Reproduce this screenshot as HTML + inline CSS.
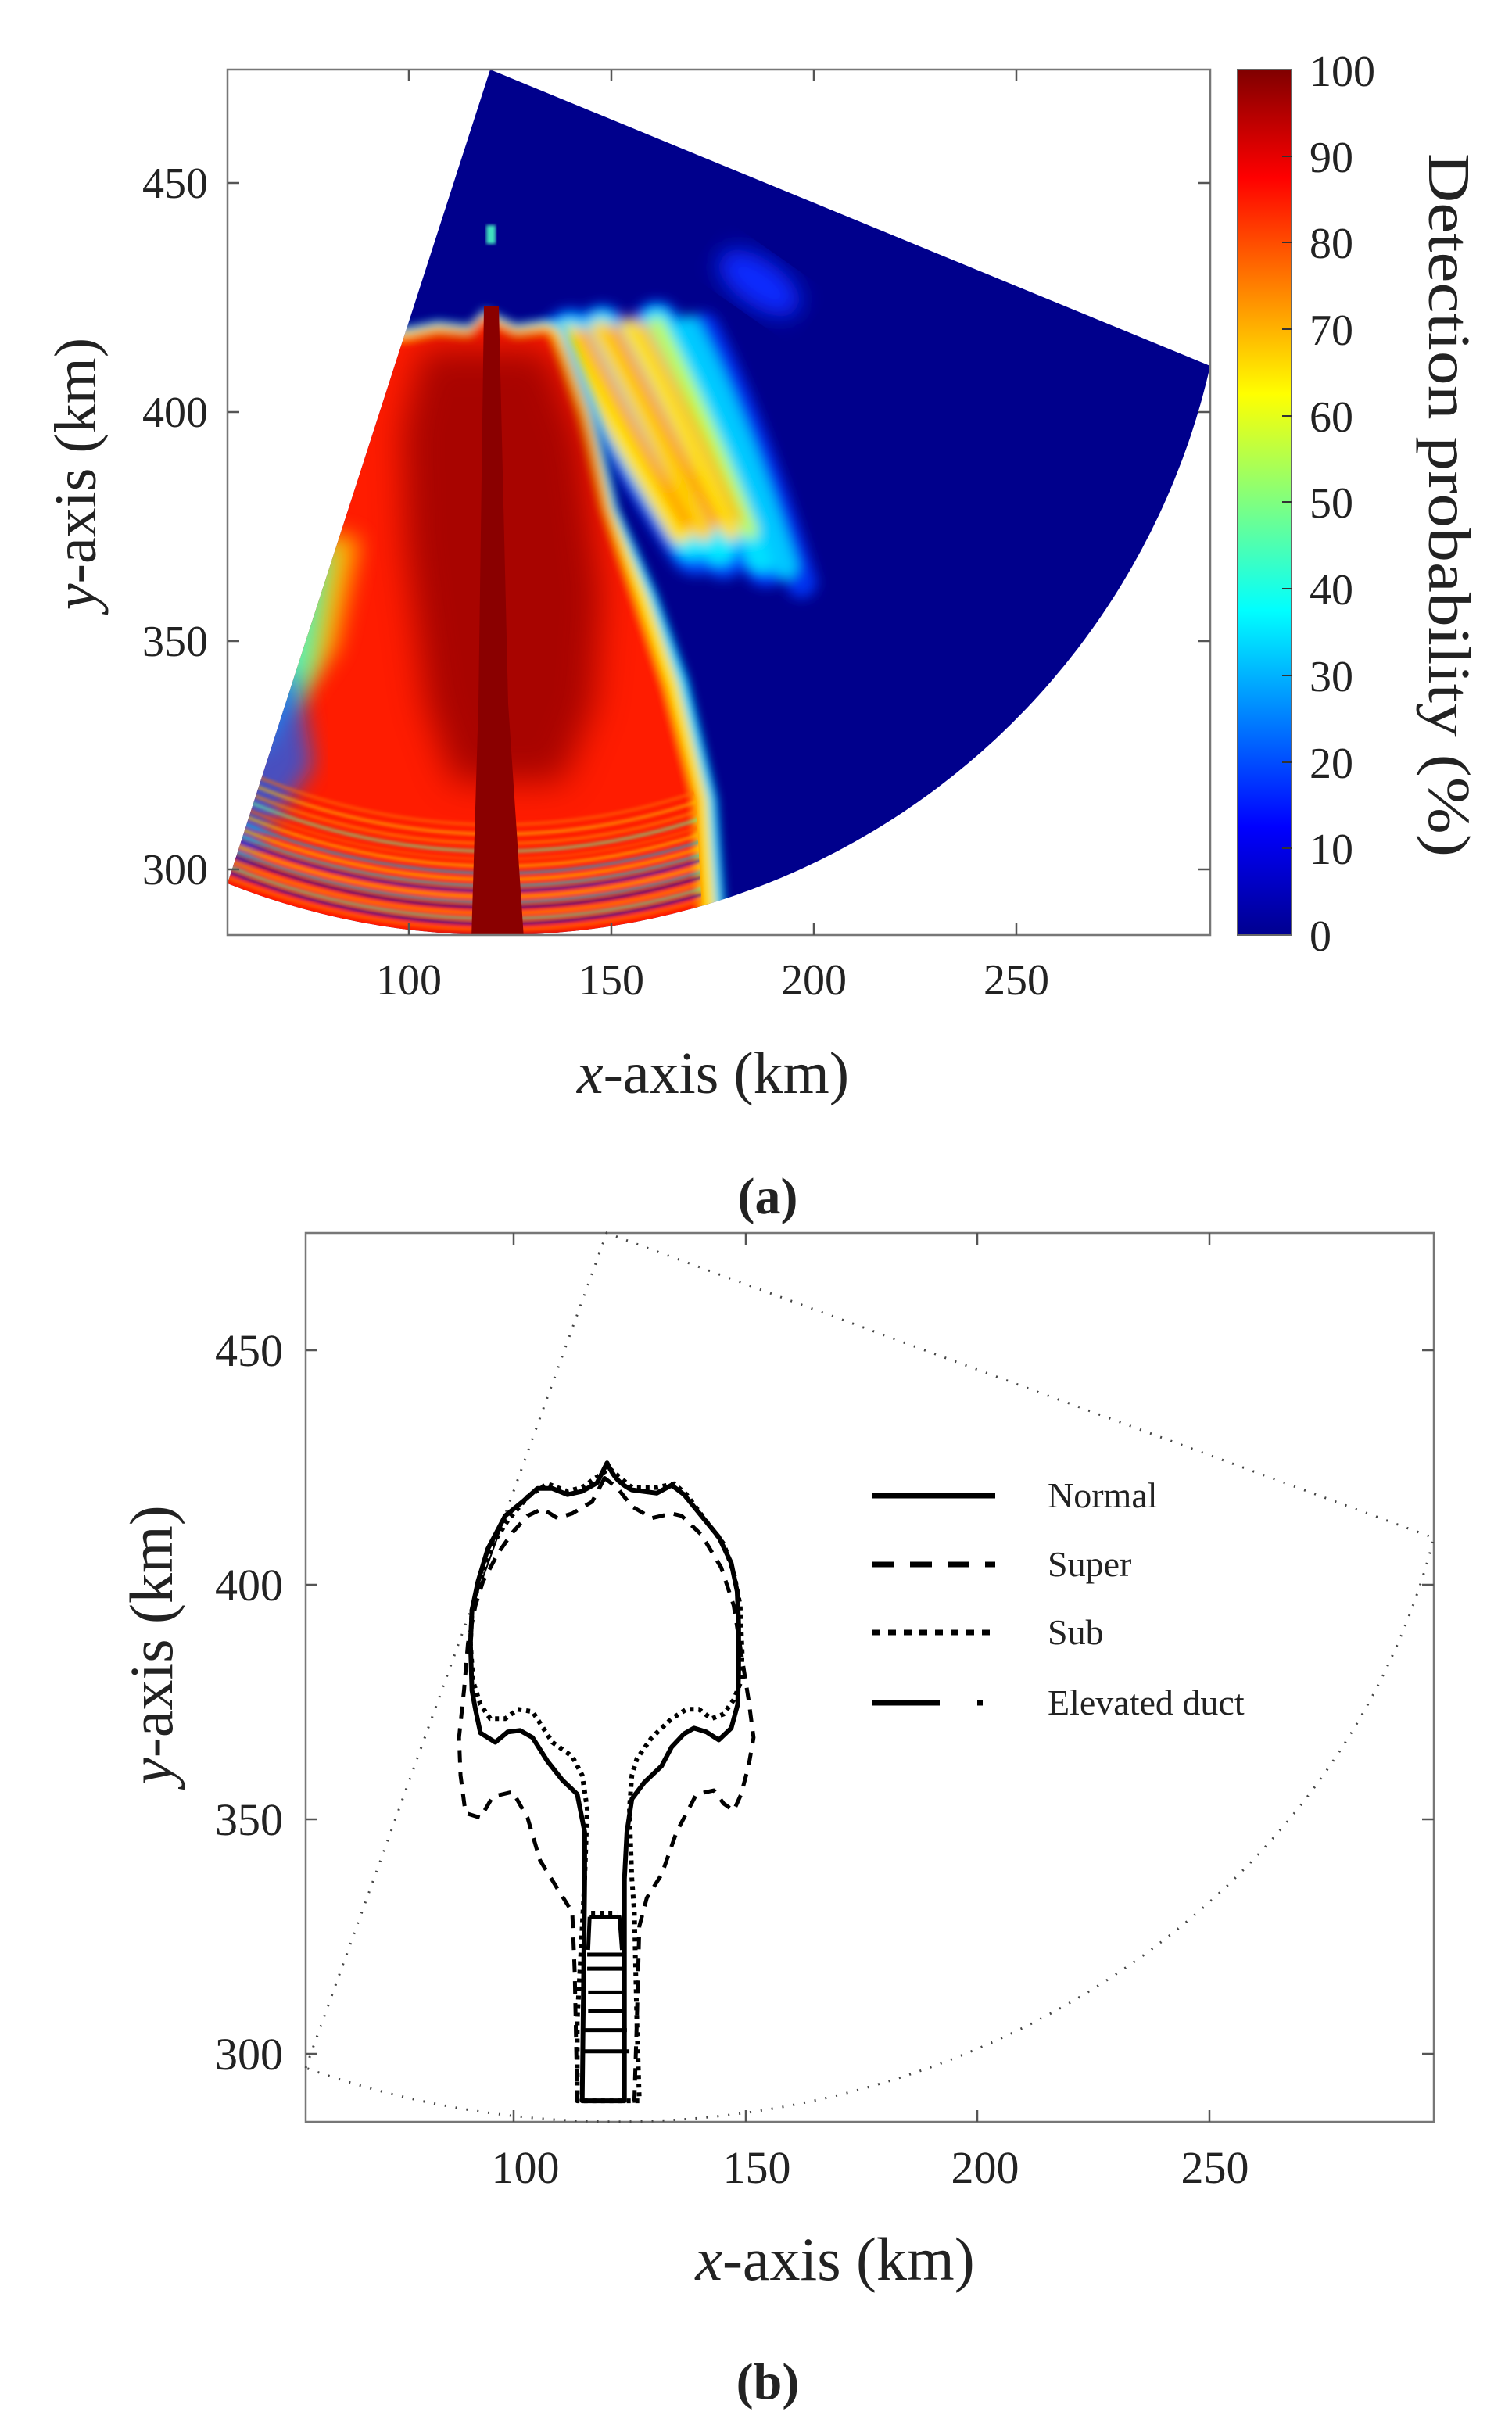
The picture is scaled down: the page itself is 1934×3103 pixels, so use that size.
<!DOCTYPE html>
<html><head><meta charset="utf-8"><style>
html,body{margin:0;padding:0;background:#fff;}
svg{display:block;}
text{font-family:"Liberation Serif",serif;fill:#222;}
</style></head><body>
<svg width="1934" height="3103" viewBox="0 0 1934 3103" xmlns="http://www.w3.org/2000/svg">
<defs>
<clipPath id="sec"><path d="M627,89 L1548,468 A935,935 0 0,1 291,1130 Z"/></clipPath>
<clipPath id="lobeclip"><path d="M240,432 L521,432 L560,424 L600,428 L620,405 L660,428 L700,422 L708,432 L742,530 L772,650 L815,770 L852,880 L890,1022 L900,1200 L240,1200 Z"/></clipPath>
<filter id="b6" x="-20%" y="-20%" width="140%" height="140%"><feGaussianBlur stdDeviation="6"/></filter>
<filter id="b8" x="-20%" y="-20%" width="140%" height="140%"><feGaussianBlur stdDeviation="8"/></filter>
<filter id="b14" x="-20%" y="-20%" width="140%" height="140%"><feGaussianBlur stdDeviation="14"/></filter>
<filter id="b22" x="-30%" y="-30%" width="160%" height="160%"><feGaussianBlur stdDeviation="22"/></filter>
<filter id="b2"><feGaussianBlur stdDeviation="2"/></filter>
<linearGradient id="jet" x1="0" y1="1" x2="0" y2="0">
<stop offset="0" stop-color="#00008f"/><stop offset="0.125" stop-color="#0000ff"/>
<stop offset="0.375" stop-color="#00ffff"/><stop offset="0.625" stop-color="#ffff00"/>
<stop offset="0.875" stop-color="#ff0000"/><stop offset="1" stop-color="#800000"/>
</linearGradient>
</defs>

<!-- Panel (a) heatmap -->
<g clip-path="url(#sec)">
<rect x="280" y="80" width="1280" height="1130" fill="#00008c"/>
<ellipse cx="971" cy="362" rx="60" ry="30" fill="#0a2cff" transform="rotate(35 971 362)" filter="url(#b14)"/>
<rect x="622" y="288" width="12" height="24" fill="#40e0c0" filter="url(#b2)"/>
<!-- fingers -->
<g filter="url(#b8)" fill="none" stroke-linecap="round">
<path d="M730,430 Q800,560 890,700" stroke="#0050ff" stroke-width="70"/>
<path d="M770,420 Q840,540 925,710" stroke="#0050ff" stroke-width="60"/>
<path d="M840,415 Q900,530 980,720" stroke="#0040ff" stroke-width="60"/>
<path d="M900,420 Q960,540 1025,745" stroke="#0030f0" stroke-width="40"/>
<path d="M730,430 Q800,560 885,690" stroke="#00e8ff" stroke-width="50"/>
<path d="M770,420 Q840,540 920,700" stroke="#00e8ff" stroke-width="44"/>
<path d="M840,415 Q900,530 975,710" stroke="#00e0ff" stroke-width="44"/>
<path d="M880,418 Q940,530 1005,725" stroke="#00c8ff" stroke-width="30"/>
<path d="M728,432 Q790,550 870,680" stroke="#ffe000" stroke-width="30"/>
<path d="M768,422 Q830,535 900,680" stroke="#ffd000" stroke-width="24"/>
<path d="M805,417 Q865,525 935,680" stroke="#ffe000" stroke-width="22"/>
<path d="M840,415 Q895,520 960,680" stroke="#c0ff40" stroke-width="18"/>
<path d="M745,425 Q805,540 878,670" stroke="#ff9000" stroke-width="12"/>
<path d="M785,420 Q845,530 915,670" stroke="#ff8000" stroke-width="10"/>
<path d="M822,416 Q880,520 945,665" stroke="#ffa000" stroke-width="8"/>
</g>
<!-- lobe -->
<g filter="url(#b6)">
<path d="M240,418 L521,418 L560,410 L600,415 L620,395 L660,414 L700,408 L722,417 L760,520 L791,650 L840,760 L880,870 L917,1022 L930,1200 L240,1200 Z" fill="#00d8ff"/>
<path d="M240,424 L521,424 L560,416 L600,421 L620,400 L660,420 L700,414 L716,424 L752,525 L782,650 L830,765 L868,875 L905,1022 L918,1200 L240,1200 Z" fill="#ffe000"/>
<path d="M240,432 L521,432 L560,424 L600,428 L620,405 L660,428 L700,422 L708,432 L742,530 L772,650 L815,770 L852,880 L890,1022 L900,1200 L240,1200 Z" fill="#ff1a00"/>
</g>
<path d="M540,445 L700,445 L745,560 L770,760 L760,900 L720,1000 L580,1000 L545,900 L520,700 L515,550 Z" fill="#9a0000" filter="url(#b22)" opacity="0.85"/>
<!-- left edge yellow/cyan fade -->
<path d="M420,680 L460,690 L430,830 L380,900 L350,900 L390,740 Z" fill="#ffd000" filter="url(#b14)" opacity="0.85"/>
<path d="M395,700 L425,700 L400,860 L340,960 L300,960 Z" fill="#40ffd0" filter="url(#b14)" opacity="0.85"/>
<path d="M300,900 L380,860 L400,980 L300,1120 Z" fill="#1060ff" filter="url(#b14)" opacity="0.75"/>
<!-- bottom stripes -->
<g clip-path="url(#lobeclip)">
<g fill="none" stroke-width="3.5" opacity="0.75" filter="url(#b2)">
<circle cx="636" cy="261" r="872" stroke="#00e0ff"/>
<circle cx="636" cy="261" r="879" stroke="#0020ff"/>
<circle cx="636" cy="261" r="886" stroke="#ffe000"/>
<circle cx="636" cy="261" r="893" stroke="#00d0ff"/>
<circle cx="636" cy="261" r="900" stroke="#0000d0"/>
<circle cx="636" cy="261" r="907" stroke="#ffb000"/>
<circle cx="636" cy="261" r="914" stroke="#40ffc0"/>
<circle cx="636" cy="261" r="921" stroke="#0010e0"/>
<circle cx="636" cy="261" r="928" stroke="#ff8000"/>
<circle cx="636" cy="261" r="864" stroke="#ffe000"/>
<circle cx="636" cy="261" r="856" stroke="#00c0ff"/>
<circle cx="636" cy="261" r="847" stroke="#ffd000"/>
<circle cx="636" cy="261" r="838" stroke="#ff6000"/>
<circle cx="636" cy="261" r="828" stroke="#60ffa0"/>
<circle cx="636" cy="261" r="818" stroke="#ff9000"/>
<circle cx="636" cy="261" r="806" stroke="#ffc000"/>
<circle cx="636" cy="261" r="794" stroke="#ff7000"/>
</g>
</g>
<!-- column -->
<path d="M619,392 L638,392 L650,900 L670,1200 L603,1200 L612,900 Z" fill="#8a0000"/>
</g>

<!-- Panel (a) axes -->
<rect x="291" y="89" width="1257" height="1107" fill="none" stroke="#777" stroke-width="2.5"/>
<g stroke="#555" stroke-width="2.5">
<line x1="523" y1="1196" x2="523" y2="1181"/><line x1="782" y1="1196" x2="782" y2="1181"/><line x1="1041" y1="1196" x2="1041" y2="1181"/><line x1="1300" y1="1196" x2="1300" y2="1181"/>
<line x1="523" y1="89" x2="523" y2="104"/><line x1="782" y1="89" x2="782" y2="104"/><line x1="1041" y1="89" x2="1041" y2="104"/><line x1="1300" y1="89" x2="1300" y2="104"/>
<line x1="291" y1="234" x2="306" y2="234"/><line x1="291" y1="527" x2="306" y2="527"/><line x1="291" y1="820" x2="306" y2="820"/><line x1="291" y1="1112" x2="306" y2="1112"/>
<line x1="1548" y1="234" x2="1533" y2="234"/><line x1="1548" y1="527" x2="1533" y2="527"/><line x1="1548" y1="820" x2="1533" y2="820"/><line x1="1548" y1="1112" x2="1533" y2="1112"/>
</g>
<g font-size="56" text-anchor="middle">
<text x="523" y="1272">100</text><text x="782" y="1272">150</text><text x="1041" y="1272">200</text><text x="1300" y="1272">250</text>
</g>
<g font-size="56" text-anchor="end">
<text x="266" y="253">450</text><text x="266" y="546">400</text><text x="266" y="839">350</text><text x="266" y="1131">300</text>
</g>
<text x="912" y="1398" font-size="76" text-anchor="middle"><tspan font-style="italic">x</tspan>-axis (km)</text>
<text transform="translate(122,606) rotate(-90)" font-size="76" text-anchor="middle"><tspan font-style="italic">y</tspan>-axis (km)</text>

<!-- colorbar -->
<rect x="1583" y="89" width="69" height="1107" fill="url(#jet)" stroke="#666" stroke-width="2"/>
<g stroke="#333" stroke-width="2">
<line x1="1652" y1="200" x2="1640" y2="200"/><line x1="1652" y1="310" x2="1640" y2="310"/><line x1="1652" y1="421" x2="1640" y2="421"/><line x1="1652" y1="532" x2="1640" y2="532"/><line x1="1652" y1="642" x2="1640" y2="642"/><line x1="1652" y1="753" x2="1640" y2="753"/><line x1="1652" y1="864" x2="1640" y2="864"/><line x1="1652" y1="975" x2="1640" y2="975"/><line x1="1652" y1="1085" x2="1640" y2="1085"/>
</g>
<g font-size="56">
<text x="1675" y="110">100</text><text x="1675" y="220">90</text><text x="1675" y="330">80</text><text x="1675" y="441">70</text><text x="1675" y="552">60</text><text x="1675" y="662">50</text><text x="1675" y="773">40</text><text x="1675" y="884">30</text><text x="1675" y="995">20</text><text x="1675" y="1105">10</text><text x="1675" y="1216">0</text>
</g>
<text transform="translate(1828,646) rotate(90)" font-size="76" text-anchor="middle" textLength="900" lengthAdjust="spacingAndGlyphs">Detection probability (%)</text>

<text x="982" y="1552" font-size="66" font-weight="bold" text-anchor="middle">(a)</text>

<!-- Panel (b) -->
<rect x="391" y="1577" width="1443" height="1137" fill="none" stroke="#777" stroke-width="2.5"/>
<g stroke="#555" stroke-width="2.5">
<line x1="657" y1="2714" x2="657" y2="2699"/><line x1="954" y1="2714" x2="954" y2="2699"/><line x1="1250" y1="2714" x2="1250" y2="2699"/><line x1="1547" y1="2714" x2="1547" y2="2699"/>
<line x1="657" y1="1577" x2="657" y2="1592"/><line x1="954" y1="1577" x2="954" y2="1592"/><line x1="1250" y1="1577" x2="1250" y2="1592"/><line x1="1547" y1="1577" x2="1547" y2="1592"/>
<line x1="391" y1="1727" x2="406" y2="1727"/><line x1="391" y1="2027" x2="406" y2="2027"/><line x1="391" y1="2327" x2="406" y2="2327"/><line x1="391" y1="2627" x2="406" y2="2627"/>
<line x1="1834" y1="1727" x2="1819" y2="1727"/><line x1="1834" y1="2027" x2="1819" y2="2027"/><line x1="1834" y1="2327" x2="1819" y2="2327"/><line x1="1834" y1="2627" x2="1819" y2="2627"/>
</g>
<g font-size="58" text-anchor="middle">
<text x="672" y="2792">100</text><text x="968" y="2792">150</text><text x="1260" y="2792">200</text><text x="1554" y="2792">250</text>
</g>
<g font-size="58" text-anchor="end">
<text x="362" y="1747">450</text><text x="362" y="2047">400</text><text x="362" y="2347">350</text><text x="362" y="2647">300</text>
</g>
<text x="1068" y="2916" font-size="78" text-anchor="middle"><tspan font-style="italic">x</tspan>-axis (km)</text>
<text transform="translate(220,2104) rotate(-90)" font-size="78" text-anchor="middle"><tspan font-style="italic">y</tspan>-axis (km)</text>
<text x="982" y="3068" font-size="66" font-weight="bold" text-anchor="middle">(b)</text>

<!-- dotted sector boundary -->
<path d="M391,2645 L776,1577 L1834,1967 A1071,958 0 0,1 391,2645" fill="none" stroke="#444" stroke-width="3" stroke-dasharray="2 12"/>

<!-- contours -->
<g transform="translate(300,1800) scale(0.6353,0.6035)" fill="none" stroke="#000" stroke-linejoin="round">
<path vector-effect="non-scaling-stroke" stroke-width="6" d="M750,118 C760,140 770,160 800,175 L850,182 L880,165 L905,185 L940,230 L975,275 L1000,330 L1012,390 L1015,460 L1015,560 L1013,630 L1000,680 L975,705 L950,688 L925,680 L905,692 L880,720 L860,760 L825,795 L800,830 L790,900 L785,1000 L785,1470 L700,1470 L705,1000 L705,900 L690,820 L660,790 L630,750 L600,700 L575,685 L550,688 L525,710 L495,690 L485,640 L478,600 L475,500 L478,430 L490,370 L510,300 L545,230 L580,200 L610,172 L640,172 L670,185 L700,178 L730,160 Z"/>
<path vector-effect="non-scaling-stroke" stroke-width="5" d="M710,1160 L780,1160 M710,1190 L780,1190 M712,1240 L780,1240 M712,1280 L780,1280 M705,1320 L790,1320 M700,1365 L795,1365 M715,1080 L775,1080 L780,1150 M715,1080 L712,1150"/>
<path vector-effect="non-scaling-stroke" stroke-width="6" stroke-dasharray="5 6" d="M755,130 L800,170 L850,170 L885,162 L910,185 L945,235 L985,290 L1005,350 L1018,420 L1022,520 L1020,580 L1005,620 L985,650 L960,660 L935,640 L910,640 L880,660 L840,700 L810,745 L800,780 L795,850 L800,1000 L805,1070 L810,1300 L815,1470 L690,1470 L690,1300 L700,1100 L705,1000 L710,850 L700,780 L680,740 L640,710 L600,645 L570,640 L545,660 L515,660 L495,630 L480,580 L475,500 L478,430 L495,360 L520,290 L550,240 L590,190 L630,162 L670,178 L700,170 L740,140 Z M718,1072 L770,1072"/>
<path vector-effect="non-scaling-stroke" stroke-width="5" stroke-dasharray="16 12" d="M745,150 L720,200 L680,225 L650,235 L620,215 L590,230 L560,265 L530,310 L500,370 L485,420 L470,500 L462,600 L452,700 L455,780 L465,860 L495,870 L520,825 L560,815 L590,870 L615,960 L650,1020 L680,1070 L685,1200 L690,1470 L805,1470 L810,1300 L815,1100 L830,1040 L860,990 L890,900 L930,820 L965,812 L985,840 L1005,855 L1020,820 L1035,760 L1045,700 L1035,620 L1020,520 L1005,420 L980,340 L940,270 L900,230 L880,225 L840,235 L800,210 L770,170 Z"/>
<path vector-effect="non-scaling-stroke" stroke-width="2" d="M545,230 L480,420"/>
</g>

<!-- legend -->
<g stroke="#000" stroke-width="7" fill="none">
<line x1="1116" y1="1913" x2="1273" y2="1913"/>
<line x1="1116" y1="2001" x2="1273" y2="2001" stroke-dasharray="28 20"/>
<line x1="1116" y1="2088" x2="1273" y2="2088" stroke-dasharray="10 10"/>
<line x1="1116" y1="2178" x2="1202" y2="2178"/>
<line x1="1250" y1="2178" x2="1257" y2="2178"/>
</g>
<g font-size="46">
<text x="1340" y="1928">Normal</text>
<text x="1340" y="2016">Super</text>
<text x="1340" y="2103">Sub</text>
<text x="1340" y="2193">Elevated duct</text>
</g>
</svg>
</body></html>
